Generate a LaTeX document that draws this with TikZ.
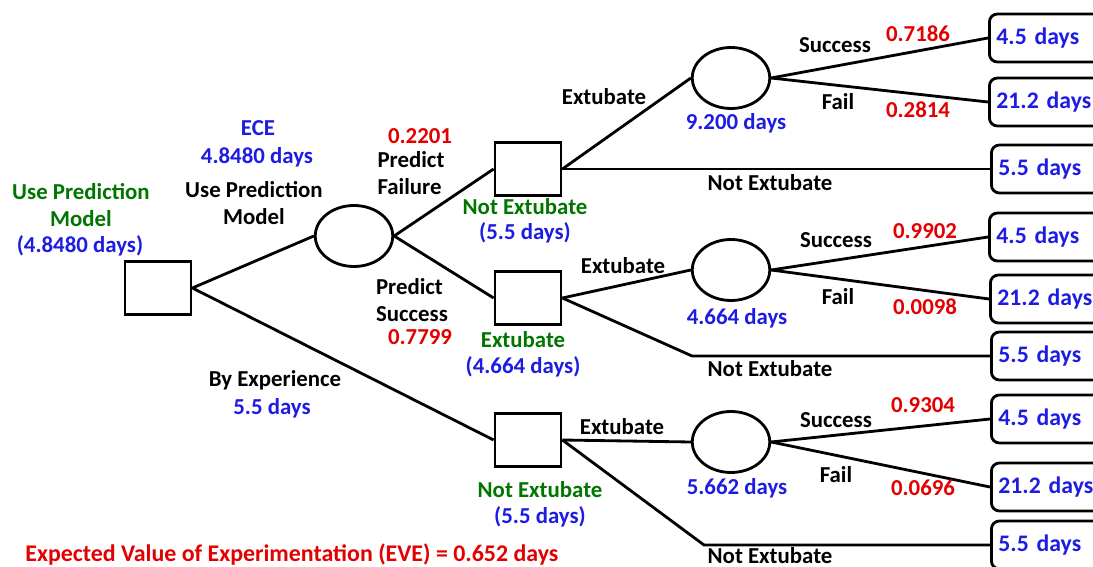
\documentclass[tikz,border=0pt]{standalone}
\usepackage{fontspec}
\setmainfont{Carlito}
\usetikzlibrary{shapes.geometric}
\definecolor{evblue}{RGB}{28,28,226}
\definecolor{evred}{RGB}{228,0,0}
\definecolor{evgreen}{RGB}{0,118,0}
\begin{document}
\begin{tikzpicture}[x=0.02cm,y=-0.02cm,line width=1.6pt,
		every node/.style={font=\fontsize{13}{15.3}\selectfont\bfseries,inner sep=0pt},
		decision/.style={draw,rectangle,minimum width=1.32cm,minimum height=1.07cm},
		chance/.style={draw,ellipse,minimum width=1.55cm,minimum height=1.22cm},
		leaf/.style={draw,rounded corners=0.16cm,anchor=west,minimum height=0.96cm,text width=2.3cm,align=left,inner xsep=0.14cm,text=evblue,font=\fontsize{13.5}{16}\selectfont\bfseries},
		prob/.style={text=evred},
		val/.style={text=evblue}]
				\clip (0,0) rectangle (1093,567);
				\node[decision] (root) at (158,288) {};
				\node[chance] (model) at (354,236) {};
				\node[decision] (fail) at (528,169) {};
				\node[decision] (succ) at (528,298) {};
				\node[decision] (expr) at (528,440) {};
				\node[chance] (c1) at (731,78) {};
				\node[chance] (c2) at (731,270) {};
				\node[chance] (c3) at (731,442) {};
				\node[leaf] (l1) at (988,38) {4.5 days};
				\node[leaf] (l2) at (988,102) {21.2 days};
				\node[leaf] (l3) at (990,169) {5.5 days};
				\node[leaf] (l4) at (988,237) {4.5 days};
				\node[leaf] (l5) at (989,299) {21.2 days};
				\node[leaf] (l6) at (990,356) {5.5 days};
				\node[leaf] (l7) at (990,419) {4.5 days};
				\node[leaf] (l8) at (990,487) {21.2 days};
				\node[leaf] (l9) at (990,545) {5.5 days};
				\coordinate (k2) at (692,356);
				\coordinate (k3) at (704,545);
				\draw (root.east) -- (model.west);
				\draw (root.east) -- (expr.west);
				\draw (model.east) -- (fail.west);
				\draw (model.east) -- (succ.west);
				\draw (fail.east) -- (c1.west);
				\draw (fail.east) -- (l3.west);
				\draw (succ.east) -- (c2.west);
				\draw (succ.east) -- (k2) -- (l6.west);
				\draw (expr.east) -- (c3.west);
				\draw (expr.east) -- (k3) -- (l9.west);
				\draw (c1.east) -- (l1.west);
				\draw (c1.east) -- (l2.west);
				\draw (c2.east) -- (l4.west);
				\draw (c2.east) -- (l5.west);
				\draw (c3.east) -- (l7.west);
				\draw (c3.east) -- (l8.west);
				\node[align=center,text=evgreen] (t1) at (81,205) {Use Prediction\\Model};
				\node[val] (t2) at (80,246) {(4.8480 days)};
				\node[val] (t3) at (258,128) {ECE};
				\node[val] (t4) at (257,157) {4.8480 days};
				\node[align=center] (t5) at (254,203) {Use Prediction\\Model};
				\node[prob] (t6) at (420,136) {0.2201};
				\node[align=left] (t7) at (411,173) {Predict\\Failure};
				\node[align=left] (t8) at (412,300) {Predict\\Success};
				\node[prob] (t9) at (420,337) {0.7799};
				\node[text=evgreen] (t10) at (525,207) {Not Extubate};
				\node[val] (t11) at (525,233) {(5.5 days)};
				\node[text=evgreen] (t12) at (523,340) {Extubate};
				\node[val] (t13) at (523,367) {(4.664 days)};
				\node[text=evgreen] (t14) at (540,490) {Not Extubate};
				\node[val] (t15) at (540,517) {(5.5 days)};
				\node (t16) at (275,380) {By Experience};
				\node[val] (t17) at (272,408) {5.5 days};
				\node (t18) at (604,97) {Extubate};
				\node (t19) at (770,183) {Not Extubate};
				\node[val] (t20) at (736,123) {9.200 days};
				\node (t21) at (835,45) {Success};
				\node[prob] (t22) at (918,34) {0.7186};
				\node (t23) at (838,102) {Fail};
				\node[prob] (t24) at (918,110) {0.2814};
				\node (t25) at (623,266) {Extubate};
				\node (t26) at (770,369) {Not Extubate};
				\node[val] (t27) at (737,318) {4.664 days};
				\node (t28) at (836,240) {Success};
				\node[prob] (t29) at (925,231) {0.9902};
				\node (t30) at (838,297) {Fail};
				\node[prob] (t31) at (925,307) {0.0098};
				\node (t32) at (622,427) {Extubate};
				\node (t33) at (770,556) {Not Extubate};
				\node[val] (t34) at (737,488) {5.662 days};
				\node (t35) at (836,420) {Success};
				\node[prob] (t36) at (923,405) {0.9304};
				\node (t37) at (836,475) {Fail};
				\node[prob] (t38) at (923,488) {0.0696};
				\node[prob,anchor=west,font=\fontsize{13.6}{16}\selectfont\bfseries] (t39) at (24,555) {Expected Value of Experimentation (EVE) = 0.652 days};
			\end{tikzpicture}
\end{document}
